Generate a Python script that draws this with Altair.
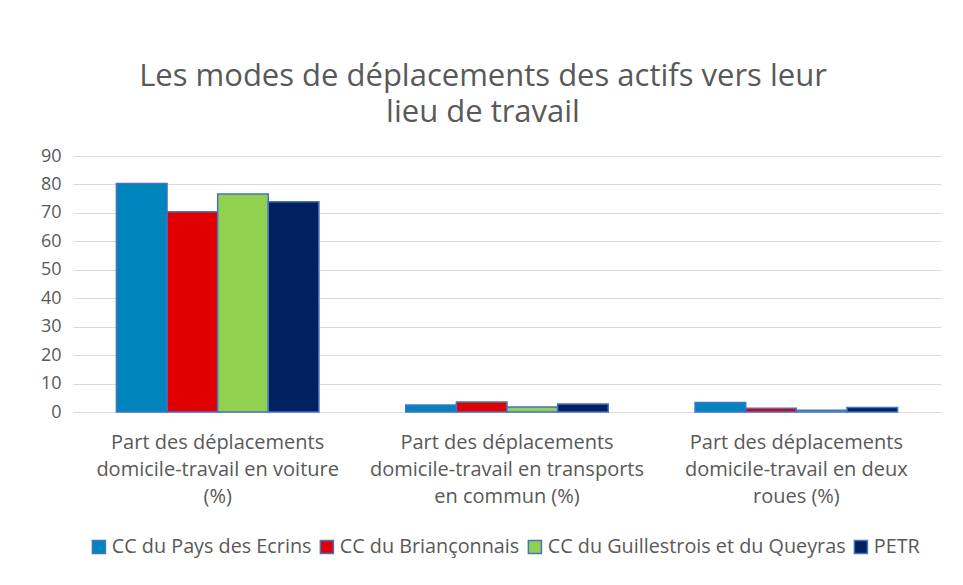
import altair as alt
import pandas as pd

categories = [
    "Part des déplacements domicile-travail en voiture (%)",
    "Part des déplacements domicile-travail en transports en commun (%)",
    "Part des déplacements domicile-travail en deux roues (%)",
]
cat_lines = {
    categories[0]: ["Part des déplacements", "domicile-travail en voiture", "(%)"],
    categories[1]: ["Part des déplacements", "domicile-travail en transports", "en commun (%)"],
    categories[2]: ["Part des déplacements", "domicile-travail en deux", "roues (%)"],
}
series = [
    "CC du Pays des Ecrins",
    "CC du Briançonnais",
    "CC du Guillestrois et du Queyras",
    "PETR",
]
colors = ["#0084BD", "#E00000", "#92D050", "#002060"]
values = {
    "CC du Pays des Ecrins": [80.3, 2.5, 3.3],
    "CC du Briançonnais": [70.4, 3.5, 1.3],
    "CC du Guillestrois et du Queyras": [76.6, 1.8, 0.6],
    "PETR": [73.9, 2.8, 1.6],
}

rows = []
for s in series:
    for c, v in zip(categories, values[s]):
        rows.append({"cat": c, "serie": s, "val": v})
df = pd.DataFrame(rows)

label_expr = " : ".join(
    f"datum.label == '{c}' ? {cat_lines[c]!r}" for c in categories
) + " : datum.label"

FONT = "Open Sans"

chart = alt.Chart(df).mark_bar(stroke="#4472C4", strokeWidth=1.5).encode(
    x=alt.X("cat:N", sort=categories, title=None,
            scale=alt.Scale(paddingInner=0.3, paddingOuter=0.15),
            axis=alt.Axis(labelAngle=0, labelExpr=label_expr, labelFontSize=20,
                          labelColor="#595959", labelFont=FONT, labelLineHeight=27,
                          labelPadding=20, ticks=False, domainColor="#D9D9D9",
                          labelBaseline="top", labelLimit=400, grid=False)),
    xOffset=alt.XOffset("serie:N", sort=series, scale=alt.Scale(paddingInner=0, paddingOuter=0)),
    y=alt.Y("val:Q", title=None,
            scale=alt.Scale(domain=[0, 90]),
            axis=alt.Axis(values=list(range(0, 91, 10)), labelFontSize=18, labelColor="#595959",
                          labelFont=FONT, ticks=False, domain=False, gridColor="#D9D9D9",
                          labelPadding=12)),
    color=alt.Color("serie:N", sort=series,
                    scale=alt.Scale(domain=series, range=colors),
                    legend=alt.Legend(orient="none", legendX=16, legendY=381,
                                      title=None, direction="horizontal",
                                      columns=4, symbolType="square", symbolSize=170,
                                      symbolStrokeColor="#4472C4", symbolStrokeWidth=1.5,
                                      labelFontSize=19.8, labelColor="#595959", labelFont=FONT,
                                      columnPadding=5, symbolOffset=0,
                                      labelOffset=3, labelLimit=400)),
).properties(
    width=868,
    height=256,
    title=alt.Title(
        ["Les modes de déplacements des actifs vers leur", "lieu de travail"],
        fontSize=31, font=FONT, fontWeight="normal", color="#595959",
        lineHeight=36, offset=18, dx=-24,
    ),
).configure(
    background="white",
    padding={"left": 32, "top": 53, "right": 5, "bottom": 5},
).configure_view(stroke=None)

chart.save("out.html", embed_options={"renderer": "svg", "actions": False})
